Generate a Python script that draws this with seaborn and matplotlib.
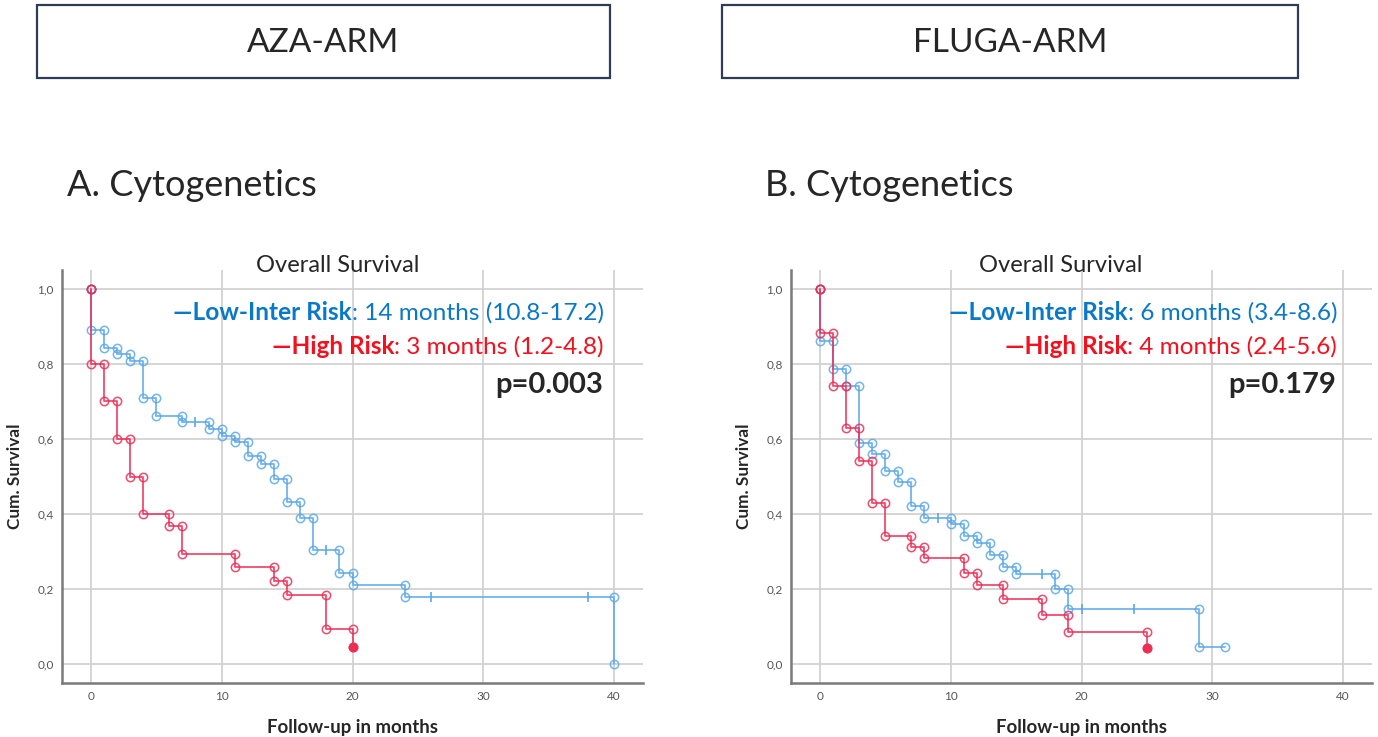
import numpy as np
import pandas as pd
import seaborn as sns
import matplotlib.pyplot as plt
from matplotlib.patches import Rectangle

# Kaplan-Meier steps (event month, survival after the drop)
aza_low_t = [0, 1, 2, 3, 4, 5, 7, 9, 10, 11, 12, 13, 14, 15, 16, 17, 19, 20, 24, 40]
aza_low_s = [0.889, 0.841, 0.827, 0.807, 0.710, 0.660, 0.644, 0.627, 0.609, 0.592,
             0.554, 0.534, 0.493, 0.431, 0.389, 0.303, 0.243, 0.212, 0.178, 0.0]
aza_low_cens = [8, 18, 26, 38]
aza_high_t = [0, 1, 2, 3, 4, 6, 7, 11, 14, 15, 18, 20]
aza_high_s = [0.80, 0.70, 0.60, 0.50, 0.40, 0.367, 0.294, 0.259, 0.222, 0.185, 0.093, 0.046]

fluga_low_t = [0, 1, 2, 3, 4, 5, 6, 7, 8, 10, 11, 12, 13, 14, 15, 18, 19, 29]
fluga_low_s = [0.862, 0.786, 0.742, 0.589, 0.561, 0.514, 0.486, 0.421, 0.389, 0.373,
               0.341, 0.323, 0.292, 0.259, 0.240, 0.201, 0.148, 0.047]
fluga_low_cens = [9, 17, 20, 24]
fluga_low_end = 31
fluga_high_t = [0, 1, 2, 3, 4, 5, 7, 8, 11, 12, 14, 17, 19, 25]
fluga_high_s = [0.883, 0.742, 0.629, 0.541, 0.429, 0.341, 0.311, 0.283, 0.243, 0.212,
                0.174, 0.132, 0.087, 0.043]

x_ticks = [0, 10, 20, 30, 40]
y_ticks = [0.0, 0.2, 0.4, 0.6, 0.8, 1.0]
y_labels = ['0,0', '0,2', '0,4', '0,6', '0,8', '1,0']

arm_names = ['AZA-ARM', 'FLUGA-ARM']
panel_titles = ['A. Cytogenetics', 'B. Cytogenetics']
low_text = [': 14 months (10.8-17.2)', ': 6 months (3.4-8.6)']
high_text = [': 3 months (1.2-4.8)', ': 4 months (2.4-5.6)']
p_values = ['p=0.003', 'p=0.179']

BLUE = '#5ba8ea'
RED = '#ee2d55'
BLUE_TXT = '#0a78c8'
RED_TXT = '#f5101e'
FONT = 'Lato'


def km_steps(times, surv, end=None):
    xs, ys = [0], [1.0]
    prev = 1.0
    for t, s in zip(times, surv):
        xs += [t, t]
        ys += [prev, s]
        prev = s
    if end is not None and end > times[-1]:
        xs.append(end)
        ys.append(prev)
    return pd.DataFrame({'month': xs, 'surv': ys})


def censor_points(times, surv, cens):
    t = np.array(times)
    s = np.array(surv)
    idx = np.searchsorted(t, cens, side='right') - 1
    return pd.DataFrame({'month': cens, 'surv': s[idx]})


sns.set_style('white')
plt.rcParams['font.family'] = [FONT, 'DejaVu Sans']

W, H = 1378, 737
fig = plt.figure(figsize=(W / 100, H / 100), dpi=100)


def fx(x, y):
    return x / W, 1 - y / H


panels = [
    (aza_low_t, aza_low_s, aza_low_cens, None, aza_high_t, aza_high_s),
    (fluga_low_t, fluga_low_s, fluga_low_cens, fluga_low_end, fluga_high_t, fluga_high_s),
]
ax_left = [62, 791]
box_x = [(37, 610), (722, 1298)]
title_x = [67, 765]
os_x = [338, 1061]
legend_right = [604, 1337]

for i, (lt, ls, lc, lend, ht, hs) in enumerate(panels):
    ax = fig.add_axes([ax_left[i] / W, 54 / H, 581 / W, 413 / H])

    low = km_steps(lt, ls, lend)
    high = km_steps(ht, hs)
    sns.lineplot(ax=ax, data=low, x='month', y='surv', sort=False, estimator=None,
                 color=BLUE, lw=1.3, marker='o', ms=6, mfc='none', mec=BLUE, mew=1.1, alpha=0.85)
    sns.lineplot(ax=ax, data=high, x='month', y='surv', sort=False, estimator=None,
                 color=RED, lw=1.3, marker='o', ms=6, mfc='none', mec=RED, mew=1.1, alpha=0.85)
    cens = censor_points(lt, ls, lc)
    sns.scatterplot(ax=ax, data=cens, x='month', y='surv', marker='|', s=60,
                    color=BLUE, linewidth=1.2)
    ax.plot(ht[-1], hs[-1], 'o', color=RED, ms=6)

    ax.set_xlim(-2.2, 42.2)
    ax.set_ylim(-0.05, 1.05)
    ax.set_xticks(x_ticks)
    ax.set_yticks(y_ticks)
    ax.set_yticklabels(y_labels)
    ax.tick_params(length=0, labelsize=8.5, colors='#555555', pad=6)
    ax.grid(True, color='#d2d2d2', lw=1.3)
    ax.set_axisbelow(True)
    for sp in ['top', 'right']:
        ax.spines[sp].set_visible(False)
    for sp in ['left', 'bottom']:
        ax.spines[sp].set_color('#7a7a7a')
        ax.spines[sp].set_linewidth(1.8)
    ax.set_xlabel('Follow-up in months', fontsize=13.4, fontweight='bold', labelpad=12)
    ax.set_ylabel('Cum. Survival', fontsize=12.4, fontweight='bold', labelpad=10)

    # arm box and panel title
    x0, x1 = box_x[i]
    fig.add_artist(Rectangle(fx(x0, 78), (x1 - x0) / W, 73 / H, transform=fig.transFigure,
                             fill=False, ec='#2e3d55', lw=1.6))
    fig.text(*fx((x0 + x1) / 2, 43), arm_names[i], fontsize=24, ha='center', va='center')
    fig.text(*fx(title_x[i], 185), panel_titles[i], fontsize=26, ha='left', va='center')
    fig.text(*fx(os_x[i], 265), 'Overall Survival', fontsize=17, ha='center', va='center')

    # legend text: bold label + regular median
    fs = 17.6
    t1 = fig.text(*fx(legend_right[i], 313), low_text[i], fontsize=fs, color=BLUE_TXT,
                  ha='right', va='center')
    ax.annotate('\u2014Low-Inter Risk', xy=(0, 0.5), xycoords=t1, ha='right', va='center',
                fontsize=fs, fontweight='bold', color=BLUE_TXT, annotation_clip=False)
    t2 = fig.text(*fx(legend_right[i], 347), high_text[i], fontsize=fs, color=RED_TXT,
                  ha='right', va='center')
    ax.annotate('\u2014High Risk', xy=(0, 0.5), xycoords=t2, ha='right', va='center',
                fontsize=fs, fontweight='bold', color=RED_TXT, annotation_clip=False)
    fig.text(*fx(legend_right[i] - 1, 385), p_values[i], fontsize=21, fontweight='bold',
             ha='right', va='center')

fig.savefig('out.png', dpi=100)
